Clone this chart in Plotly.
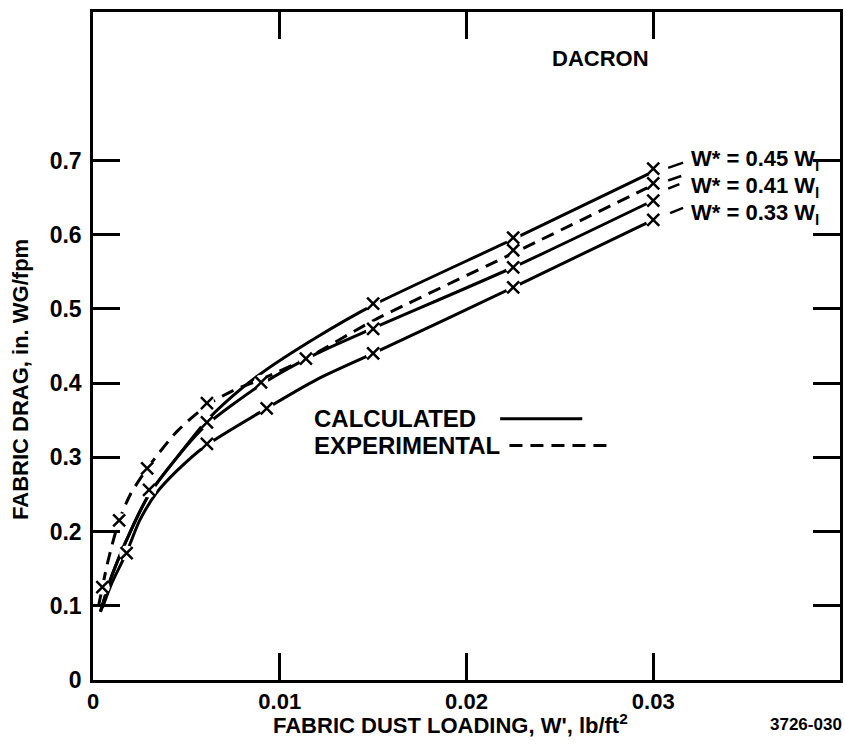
import plotly.graph_objects as go

# ---- data ----
calc_045_x = [0.0004, 0.001, 0.002, 0.003, 0.0045, 0.006, 0.0075, 0.009, 0.012, 0.015, 0.0225, 0.03]
calc_045_y = [0.092, 0.14, 0.200, 0.250, 0.300, 0.347, 0.383, 0.413, 0.462, 0.505, 0.594, 0.685]

calc_041_x = [0.0004, 0.001, 0.002, 0.003, 0.0045, 0.006, 0.009, 0.012, 0.015, 0.0225, 0.03]
calc_041_y = [0.092, 0.14, 0.200, 0.250, 0.300, 0.342, 0.398, 0.440, 0.474, 0.556, 0.646]

calc_033_x = [0.0005, 0.001, 0.0018, 0.0025, 0.0034, 0.0045, 0.006, 0.0093, 0.012, 0.015, 0.0225, 0.03]
calc_033_y = [0.097, 0.130, 0.172, 0.215, 0.252, 0.282, 0.315, 0.366, 0.405, 0.440, 0.529, 0.620]

exp_x = [0.0003, 0.0008, 0.0014, 0.002, 0.0029, 0.0045, 0.0061, 0.0075, 0.009, 0.0114, 0.015, 0.0225, 0.03]
exp_y = [0.100, 0.160, 0.215, 0.250, 0.285, 0.335, 0.370, 0.390, 0.405, 0.433, 0.484, 0.575, 0.667]

pts_x = [0.0005, 0.0014, 0.0018, 0.0029, 0.003, 0.0061, 0.0061, 0.0061, 0.009, 0.0093, 0.0114,
         0.015, 0.015, 0.015, 0.0225, 0.0225, 0.0225, 0.0225, 0.03, 0.03, 0.03, 0.03]
pts_y = [0.125, 0.215, 0.171, 0.285, 0.256, 0.373, 0.347, 0.318, 0.401, 0.366, 0.433,
         0.507, 0.473, 0.440, 0.596, 0.579, 0.556, 0.529, 0.689, 0.669, 0.646, 0.620]

x_ticks = [0, 0.01, 0.02, 0.03]
x_tick_text = ["0", "0.01", "0.02", "0.03"]
y_ticks = [0, 0.1, 0.2, 0.3, 0.4, 0.5, 0.6, 0.7]
y_tick_text = ["0", "0.1", "0.2", "0.3", "0.4", "0.5", "0.6", "0.7"]

labels = ["W* = 0.45 W<sub>l</sub>", "W* = 0.41 W<sub>l</sub>", "W* = 0.33 W<sub>l</sub>"]
label_y = [0.700, 0.664, 0.628]
# short leader strokes from the 0.03 points to the labels: (x0, y0, x1, y1)
leaders = [(0.0308, 0.690, 0.0316, 0.697),
           (0.0308, 0.673, 0.0315, 0.679),
           (0.0308, 0.662, 0.0314, 0.668),
           (0.0309, 0.629, 0.0316, 0.636)]

FONT = "Liberation Sans, Arial, Helvetica, sans-serif"
BLACK = "black"

fig = go.Figure()
line_style = dict(color=BLACK, width=3, shape="spline", smoothing=0.7)
fig.add_trace(go.Scatter(x=calc_045_x, y=calc_045_y, mode="lines", line=line_style, name="calc 0.45"))
fig.add_trace(go.Scatter(x=calc_041_x, y=calc_041_y, mode="lines", line=line_style, name="calc 0.41"))
fig.add_trace(go.Scatter(x=calc_033_x, y=calc_033_y, mode="lines", line=line_style, name="calc 0.33"))
fig.add_trace(go.Scatter(x=exp_x, y=exp_y, mode="lines",
                         line=dict(color=BLACK, width=3, dash="13px,8px", shape="spline", smoothing=0.7),
                         name="experimental"))
# white halo to break lines at points (as in the original drawing)
fig.add_trace(go.Scatter(x=pts_x, y=pts_y, mode="markers",
                         marker=dict(symbol="circle", size=15, color="white", line=dict(width=0)),
                         hoverinfo="skip"))
fig.add_trace(go.Scatter(x=pts_x, y=pts_y, mode="markers",
                         marker=dict(symbol="x-thin", size=12, line=dict(color=BLACK, width=2.5)),
                         name="points"))

ann = []
for t, yv in zip(labels, label_y):
    ann.append(dict(x=0.0319, y=yv, xref="x", yref="y", text="<b>%s</b>" % t, showarrow=False,
                    xanchor="left", yanchor="middle", font=dict(family=FONT, size=22, color=BLACK)))
ann.append(dict(x=0.0272, y=0.838, xref="x", yref="y", text="<b>DACRON</b>", showarrow=False,
                font=dict(family=FONT, size=22, color=BLACK)))
ann.append(dict(x=0.0117, y=0.352, xref="x", yref="y", text="<b>CALCULATED</b>", showarrow=False,
                xanchor="left", yanchor="middle", font=dict(family=FONT, size=24, color=BLACK)))
ann.append(dict(x=0.0117, y=0.316, xref="x", yref="y", text="<b>EXPERIMENTAL</b>", showarrow=False,
                xanchor="left", yanchor="middle", font=dict(family=FONT, size=24, color=BLACK)))
ann.append(dict(x=-0.097, y=0.45, xref="paper", yref="paper", text="<b>FABRIC DRAG, in. WG/fpm</b>",
                textangle=-90, showarrow=False, xanchor="center", yanchor="middle",
                font=dict(family=FONT, size=22, color=BLACK)))
ann.append(dict(x=0.478, y=-0.0665, xref="paper", yref="paper",
                text="<b>FABRIC DUST LOADING, W', lb/ft<sup>2</sup></b>",
                showarrow=False, xanchor="center", yanchor="middle", font=dict(family=FONT, size=22, color=BLACK)))
ann.append(dict(x=0.904, y=-0.067, xref="paper", yref="paper", text="<b>3726-030</b>",
                showarrow=False, xanchor="left", yanchor="middle", font=dict(family=FONT, size=17, color=BLACK)))

shapes = [
    dict(type="line", xref="x", yref="y", x0=0.0218, x1=0.0262, y0=0.352, y1=0.352,
         line=dict(color=BLACK, width=3)),
    dict(type="line", xref="x", yref="y", x0=0.0223, x1=0.0277, y0=0.316, y1=0.316,
         line=dict(color=BLACK, width=3, dash="13px,8px")),
]
for x0, y0, x1, y1 in leaders:
    shapes.append(dict(type="line", xref="x", yref="y", x0=x0, y0=y0, x1=x1, y1=y1,
                       line=dict(color=BLACK, width=2.5)))

axis_common = dict(showgrid=False, zeroline=False, showline=True, linecolor=BLACK, linewidth=2.5,
                   mirror="ticks", ticks="inside", tickcolor=BLACK, tickwidth=2.5, ticklen=27)

fig.update_layout(
    width=845, height=745,
    margin=dict(l=93, r=2, t=12, b=65),
    paper_bgcolor="white", plot_bgcolor="white",
    showlegend=False,
    annotations=ann, shapes=shapes,
    xaxis=dict(range=[0, 0.04], tickvals=x_ticks, ticktext=["<b>%s</b>" % s for s in x_tick_text],
               ticklabelstandoff=0, tickfont=dict(family=FONT, size=22, color=BLACK), **axis_common),
    yaxis=dict(range=[0, 0.9], tickvals=y_ticks, ticktext=["<b>%s</b>" % s for s in y_tick_text],
               ticklabelstandoff=4, tickfont=dict(family=FONT, size=23, color=BLACK), **axis_common),
)

fig.write_html("out.html")
